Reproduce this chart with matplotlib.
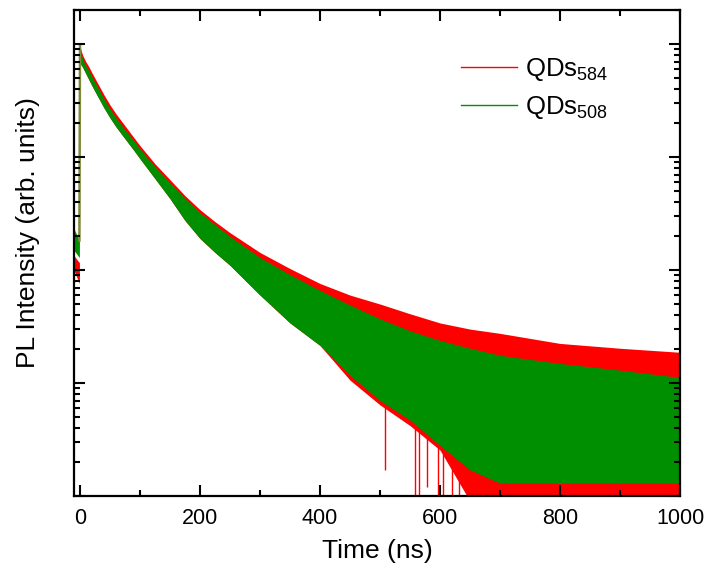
import numpy as np
import matplotlib
matplotlib.use("Agg")
from matplotlib import pyplot as plt
from matplotlib.ticker import LogLocator, NullFormatter, MultipleLocator

plt.rcParams['font.family'] = ['Liberation Sans', 'DejaVu Sans']
plt.rcParams['mathtext.fontset'] = 'custom'
plt.rcParams['mathtext.rm'] = 'Liberation Sans'
plt.rcParams['mathtext.it'] = 'Liberation Sans:italic'

# time axis (ns) of the envelope readings
t = [-10, -1, 0, 2, 5, 10, 15, 20, 30, 40, 50, 60, 75, 90, 100, 125, 150, 175,
     200, 225, 250, 300, 350, 400, 450, 500, 550, 600, 650, 700, 800, 900, 1000]

# QDs584 (red) upper / lower edge of the noisy trace, counts
red_hi = [134, 116, 9800, 8670, 7840, 6930, 6270, 5550, 4440, 3550, 2890, 2410,
          1890, 1480, 1260, 871, 630, 455, 342, 268, 214, 143, 103, 76, 60, 50,
          41, 34, 30, 27.5, 22.4, 20.3, 18.7]
red_lo = [99, 76, 6800, 6530, 6140, 5430, 4810, 4260, 3400, 2720, 2220, 1850,
          1450, 1140, 965, 643, 428, 274, 190, 143, 110, 60, 34, 21.5, 10.6, 6.4,
          4.2, 2.55, 0.9, 0.9, 0.9, 0.9, 0.9]

# QDs508 (green) upper / lower edge
green_hi = [232, 182, 9800, 8160, 7220, 6390, 5780, 5110, 4090, 3270, 2670, 2220,
            1740, 1390, 1180, 820, 593, 428, 322, 252, 198, 129, 91, 66, 49, 37,
            29, 23.8, 20.3, 17.6, 14.9, 13.0, 11.2]
green_lo = [149, 129, 6800, 6530, 6140, 5430, 4810, 4260, 3400, 2720, 2220, 1850,
            1450, 1140, 965, 643, 428, 274, 190, 143, 110, 60, 34, 21.5, 11.7, 7.0,
            4.7, 2.8, 1.7, 1.3, 1.3, 1.3, 1.3]

# single red drop-outs below the green band
red_drop_t = [508, 558, 565, 578, 597, 605, 620, 632]
red_drop_min = [1.7, 0.9, 0.9, 1.2, 0.9, 0.9, 0.9, 0.9]

labels = ["QDs$_{584}$", "QDs$_{508}$"]
red = "#ff0000"
green = "#008f00"

fig = plt.figure(figsize=(7.04, 5.68), dpi=100)
ax = fig.add_axes([74/704, 72/568, 606/704, 486/568])

ax.fill_between(t, red_lo, red_hi, color=red, linewidth=0, zorder=1)
ax.vlines(red_drop_t, red_drop_min, 10, color=red, linewidth=1, zorder=1.1)
ax.fill_between(t, green_lo, green_hi, color=green, linewidth=0, zorder=1.2)
# rising edge, red and green on top of each other
ax.plot(t[1:3], green_hi[1:3], color="#7f8a3a", lw=1.8, zorder=1.3)

ax.plot([], [], color=red, lw=1, label=labels[0])
ax.plot([], [], color=green, lw=1, label=labels[1])

ax.set_yscale("log")
ax.set_xlim(-10, 1000)
ax.set_ylim(1, 2e4)

ax.xaxis.set_major_locator(MultipleLocator(200))
ax.xaxis.set_minor_locator(MultipleLocator(100))
ax.yaxis.set_major_locator(LogLocator(base=10, numticks=10))
ax.yaxis.set_minor_locator(LogLocator(base=10, subs=np.arange(2, 10), numticks=10))
ax.yaxis.set_major_formatter(NullFormatter())
ax.yaxis.set_minor_formatter(NullFormatter())

ax.tick_params(which="both", direction="in", top=True, right=True, width=1.5)
ax.tick_params(which="major", length=8, labelsize=15.5, pad=9)
ax.tick_params(which="minor", length=4)
for s in ax.spines.values():
    s.set_linewidth(1.6)
    s.set_zorder(3)

ax.set_xlabel("Time (ns)", fontsize=19, labelpad=7)
ax.set_ylabel("PL Intensity (arb. units)", fontsize=19)
ax.yaxis.set_label_coords(-0.056, 0.543)

ax.legend(loc="upper left", bbox_to_anchor=(0.638, 0.905), frameon=False,
          fontsize=18.5, handlelength=2.2, handletextpad=0.3, labelspacing=0.42,
          borderpad=0, borderaxespad=0)

fig.savefig("out.png", dpi=100)
